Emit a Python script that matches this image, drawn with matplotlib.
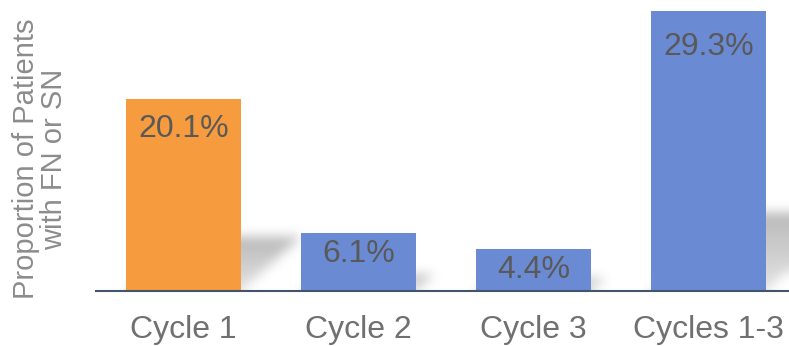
import numpy as np
import matplotlib.pyplot as plt

plt.rcParams['font.family'] = ['Liberation Sans', 'DejaVu Sans']

categories = ["Cycle 1", "Cycle 2", "Cycle 3", "Cycles 1-3"]
values = [20.1, 6.1, 4.4, 29.3]
labels = ["20.1%", "6.1%", "4.4%", "29.3%"]
colors = ["#F79C3E", "#6A8BD3", "#6A8BD3", "#6A8BD3"]

W = 0.657
X = np.arange(len(categories))
XLIM = (-0.5, 3.46)
YLIM = (0, 30.47)

fig = plt.figure(figsize=(7.89, 3.46), dpi=100)
ax = fig.add_axes([0.1217, 0.159, 0.8783, 0.841])

# soft cast shadows: each bar skewed to the right and flattened, then blurred
nx, ny = 700, 300
gx = np.linspace(XLIM[0], XLIM[1], nx)
gy = np.linspace(YLIM[0], YLIM[1], ny)
GX, GY = np.meshgrid(gx, gy)
mask = np.zeros_like(GX)
for x, h in zip(X, values):
    top = 0.28 * h
    shift = 0.017 * h
    t = np.clip(GY / top, 0, None)
    inside = (GY <= top) & (GX >= x - W / 2 + shift * t) & (GX <= x + W / 2 + shift * t)
    mask[inside] = np.maximum(mask[inside], 0.4 + 0.6 * t[inside])


def box_blur(a, k):
    pad = k // 2
    b = np.pad(a, ((0, 0), (pad, pad)), mode='edge')
    c = np.cumsum(b, axis=1)
    c = np.pad(c, ((0, 0), (1, 0)))
    a = (c[:, k:] - c[:, :-k]) / k
    b = np.pad(a, ((pad, pad), (0, 0)), mode='edge')
    c = np.cumsum(b, axis=0)
    c = np.pad(c, ((1, 0), (0, 0)))
    return (c[k:, :] - c[:-k, :]) / k


for _ in range(3):
    mask = box_blur(mask, 11)
rgba = np.zeros((ny, nx, 4))
rgba[..., :3] = 0.45
rgba[..., 3] = np.clip(mask, 0, 1) * 0.5
ax.imshow(rgba, extent=(XLIM[0], XLIM[1], YLIM[0], YLIM[1]), origin='lower',
          aspect='auto', interpolation='bilinear', zorder=1)

bars = ax.bar(X, values, width=W, color=colors, zorder=2)

for x, h, lab in zip(X, values, labels):
    off = -(13 + 0.045 * h * 9.55)
    ax.annotate(lab, (x, h), xytext=(0, off), textcoords='offset points',
                ha='center', va='center', fontsize=23, color='#595959', zorder=3)

ax.set_xlim(*XLIM)
ax.set_ylim(*YLIM)
ax.set_xticks(X)
ax.set_xticklabels(categories, fontsize=23, color='#707070')
ax.tick_params(axis='x', length=0, pad=17)
ax.set_yticks([])
for s in ['top', 'right', 'left']:
    ax.spines[s].set_visible(False)
ax.spines['bottom'].set_color('#44546A')
ax.spines['bottom'].set_linewidth(1.5)
ax.spines['bottom'].set_zorder(4)

fig.text(0.051, 0.54, "Proportion of Patients\nwith FN or SN", rotation=90,
         ha='center', va='center', fontsize=21, color='#8C8C8C',
         multialignment='center', linespacing=1.0)

fig.savefig("out.png", dpi=100)
